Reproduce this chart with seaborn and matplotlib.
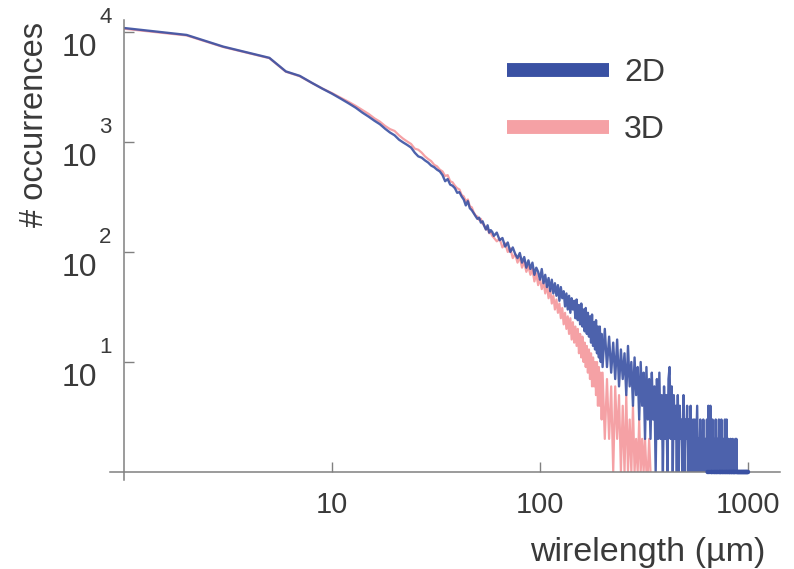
import numpy as np
import pandas as pd
import matplotlib
matplotlib.use("Agg")
import matplotlib.pyplot as plt
import matplotlib.transforms as mtransforms
import seaborn as sns
from matplotlib.lines import Line2D
from matplotlib.ticker import FixedLocator, LogLocator, NullFormatter

# === data: wirelength histogram (bins in um) ===
bins_a = list(range(1, 61))        # 1 um steps
bins_b = list(range(62, 201, 2))   # 2 um steps
bins_c = list(range(205, 1001, 5)) # 5 um steps

counts_2d_a = [10870, 9400, 7360, 6450, 5820, 4380, 3990, 3450, 3050, 2750,
               2480, 2250, 2050, 1850, 1700, 1560, 1450, 1320, 1220, 1150,
               1050, 990, 940, 890, 800, 740, 720, 680, 650, 610,
               590, 560, 540, 500, 440, 460, 410, 400, 380, 345,
               350, 320, 300, 265, 290, 250, 240, 225, 212, 200,
               205, 185, 190, 172, 160, 175, 150, 158, 152, 140]
counts_2d_b = [150, 128, 134, 112, 122, 100, 110, 96, 88, 98,
               80, 90, 72, 84, 70, 80, 62, 72, 66, 56,
               70, 52, 62, 48, 58, 44, 56, 42, 52, 40,
               50, 36, 48, 38, 44, 32, 42, 30, 40, 28,
               38, 30, 36, 25, 37, 24, 33, 22, 34, 21,
               30, 19, 31, 18, 28, 17, 26, 15, 27, 14,
               23, 13, 24, 12, 21, 11, 21, 10, 18, 9]
counts_2d_c = [20, 9, 17, 8, 15, 7, 16, 6, 13, 7,
               12, 5, 14, 6, 10, 4, 11, 5, 9, 3,
               10, 4, 8, 2, 9, 3, 7, 2, 8, 3,
               6, 1, 7, 2, 8, 2, 5, 1, 6, 2,
               5, 1, 7, 9, 2, 6, 1, 5, 2, 4,
               1, 5, 1, 4, 2, 3, 1, 5, 1, 3,
               2, 4, 1, 3, 1, 4, 1, 2, 3, 1,
               3, 1, 2, 4, 1, 2, 1, 3, 1, 2,
               1, 3, 1, 1, 2, 1, 3, 1, 4, 1,
               2, 4, 1, 1, 3, 1, 2, 1, 1, 3,
               1, 1, 2, 1, 3, 1, 1, 1, 3, 1,
               1, 2, 1, 1, 3, 1, 1, 3, 1, 1,
               2, 1, 1, 1, 2, 1, 1, 1, 2, 1,
               1, 1, 1, 2, 1, 2, 1, 1, 1, 1,
               1, 1, 1, 1, 1, 1, 1, 1, 1, 1,
               1, 1, 1, 1, 1, 1, 1, 1, 1, 1]

counts_3d_a = [10700, 9300, 7300, 6400, 5780, 4350, 3960, 3440, 3060, 2780,
               2530, 2320, 2130, 1950, 1800, 1640, 1530, 1400, 1310, 1260,
               1150, 1070, 1010, 960, 870, 850, 800, 740, 700, 670,
               620, 600, 560, 540, 490, 500, 440, 430, 400, 380,
               370, 330, 320, 290, 300, 260, 255, 230, 215, 210,
               195, 200, 180, 175, 160, 165, 148, 150, 140, 135]
counts_3d_b = [125, 132, 110, 120, 100, 108, 88, 96, 80, 90,
               72, 82, 66, 74, 62, 70, 54, 64, 50, 58,
               46, 54, 42, 50, 38, 46, 34, 40, 30, 37,
               28, 34, 25, 31, 22, 28, 20, 26, 18, 25,
               16, 23, 15, 21, 14, 20, 12, 18, 11, 17,
               10, 15, 9, 14, 8, 13, 7, 12, 6, 11,
               6, 10, 5, 10, 4, 9, 4, 8, 3, 8]
counts_3d_c = [2, 7, 2, 6, 1, 6, 2, 5, 1, 4,
               1, 5, 1, 3, 1, 4, 1, 2, 1, 3,
               1, 2, 1, 2, 1, 1, 2, 1]

series_names = ["2D", "3D"]
colors = {"2D": "#3a51a3", "3D": "#f5a1a5"}
x_ticks = [10, 100, 1000]
y_ticks = [10, 100, 1000, 10000]
y_exponents = ["1", "2", "3", "4"]

df2 = pd.DataFrame({"wl": bins_a + bins_b + bins_c,
                    "n": counts_2d_a + counts_2d_b + counts_2d_c})
df3 = pd.DataFrame({"wl": bins_a + bins_b + bins_c[:len(counts_3d_c)],
                    "n": counts_3d_a + counts_3d_b + counts_3d_c})

# === style ===
sns.set_theme(style="white")
plt.rcParams["font.family"] = ["Liberation Sans", "DejaVu Sans"]
txt = "#3a3a3a"
axc = "#808080"

fig = plt.figure(figsize=(7.94, 5.69), dpi=100)
ax = fig.add_axes([124 / 794, 1 - 472 / 569, 656 / 794, 452 / 569])

sns.lineplot(data=df3, x="wl", y="n", color=colors["3D"], lw=1.6, ax=ax)
sns.lineplot(data=df2, x="wl", y="n", color=colors["2D"], lw=1.7, alpha=0.9, ax=ax)
tail = df2[(df2["wl"] >= 640) & (df2["n"] == 1)]
sns.scatterplot(data=tail, x="wl", y="n", color=colors["2D"], s=10,
                edgecolor="none", clip_on=False, ax=ax, zorder=4)

ax.set_xscale("log")
ax.set_yscale("log")
ax.set_xlim(1, 1426)
ax.set_ylim(1, 12850)

ax.xaxis.set_major_locator(FixedLocator(x_ticks))
ax.set_xticklabels([str(v) for v in x_ticks])
ax.xaxis.set_minor_locator(LogLocator(base=10, subs=np.arange(2, 10)))
ax.xaxis.set_minor_formatter(NullFormatter())
ax.yaxis.set_major_locator(FixedLocator(y_ticks))
ax.set_yticklabels(["10"] * len(y_ticks))
ax.yaxis.set_minor_locator(LogLocator(base=10, subs=np.arange(2, 10)))
ax.yaxis.set_minor_formatter(NullFormatter())

ax.tick_params(which="major", direction="in", length=7, width=1, color=axc,
               labelcolor=txt)
ax.tick_params(which="minor", direction="in", length=3.5, width=0.8, color=axc)
ax.tick_params(axis="x", which="major", pad=14, labelsize=21)
ax.tick_params(axis="y", which="major", pad=19, labelsize=23)
ax.tick_params(left=True, bottom=True)

# base "10" sits below the tick, exponent above it (Mathematica style)
shift = mtransforms.ScaledTranslation(0, -13 / 100, fig.dpi_scale_trans)
for lab in ax.get_yticklabels():
    lab.set_transform(lab.get_transform() + shift)
for v, e in zip(y_ticks, y_exponents):
    ax.annotate(e, xy=(0, v), xycoords=("axes fraction", "data"),
                xytext=(-25, 14), textcoords="offset pixels",
                ha="left", va="center", fontsize=16, color=txt,
                annotation_clip=False)

for s in ["top", "right"]:
    ax.spines[s].set_visible(False)
for s in ["left", "bottom"]:
    ax.spines[s].set_color(axc)
    ax.spines[s].set_linewidth(1.1)
ax.spines["bottom"].set_bounds(10 ** (-14 / 208), 1426)
ax.spines["left"].set_bounds(10 ** (-8 / 110.5), 12850)

ax.set_xlabel("wirelength (\u00b5m)", fontsize=24.5, color=txt)
ax.xaxis.set_label_coords((765 - 124) / 656, -(552 - 472) / 452)
ax.xaxis.label.set_ha("right")
ax.xaxis.label.set_va("center")
ax.set_ylabel("# occurrences", fontsize=23.5, color=txt)
ax.yaxis.set_label_coords(-(124 - 35) / 656, (472 - 22) / 452)
ax.yaxis.label.set_va("center")
ax.yaxis.label.set_ha("right")

handles = [Line2D([0], [0], color=colors[k], lw=10, solid_capstyle="butt")
           for k in series_names]
leg = ax.legend(handles, series_names, loc="upper left",
                bbox_to_anchor=((507 - 124) / 656, (472 - 58) / 452),
                frameon=False, fontsize=23, handlelength=3.2,
                handletextpad=0.47, labelspacing=0.86, borderpad=0,
                borderaxespad=0)
for t in leg.get_texts():
    t.set_color(txt)

fig.savefig("out.png", dpi=100)
